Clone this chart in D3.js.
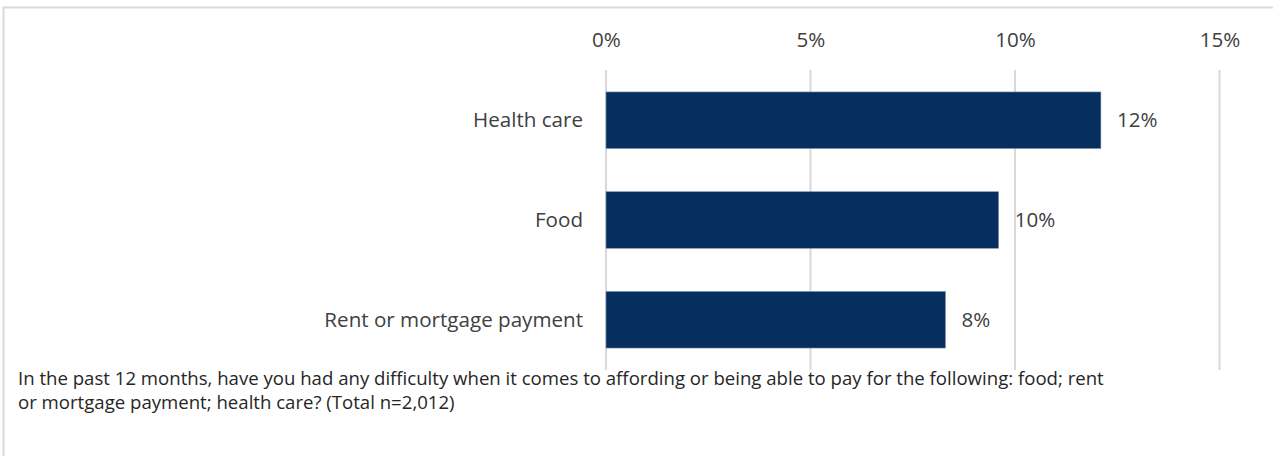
<!DOCTYPE html>
<html><head><meta charset="utf-8">
<script src="https://cdn.jsdelivr.net/npm/d3@7"></script>
<style>
html,body{margin:0;padding:0;background:#fff;}
svg{display:block;}
text{font-family:"Open Sans",Lato,sans-serif;}
</style></head>
<body>
<svg id="chart" width="1273" height="456"></svg>
<script>
const categories = ["Health care", "Food", "Rent or mortgage payment"];
const values = [12.1, 9.6, 8.3];
const valueLabels = ["12%", "10%", "8%"];
const tickValues = [0, 5, 10, 15];
const captionLines = [
  "In the past 12 months, have you had any difficulty when it comes to affording or being able to pay for the following: food; rent",
  "or mortgage payment; health care? (Total n=2,012)"
];

const FONT = "'Open Sans', Lato, sans-serif";
const svg = d3.select("#chart");
// outer border
svg.append("rect").attr("x", 3.5).attr("y", 7.5).attr("width", 1290).attr("height", 470)
  .attr("fill", "none").attr("stroke", "#d9d9d9").attr("stroke-width", 2);

const x = d3.scaleLinear().domain([0, 15]).range([606, 1219.5]);
const y = d3.scaleBand().domain(categories).range([70, 370]).paddingInner(0.433).paddingOuter(0.22);

// gridlines
svg.append("g").selectAll("line").data(tickValues).join("line")
  .attr("x1", d => x(d)).attr("x2", d => x(d))
  .attr("y1", 70).attr("y2", 370)
  .attr("stroke", "#d9d9d9").attr("stroke-width", 2);

// top axis labels
const axis = d3.axisTop(x).tickValues(tickValues).tickFormat(d => d + "%").tickSize(0).tickPadding(0);
const ag = svg.append("g").attr("transform", "translate(0,47)").call(axis);
ag.select(".domain").remove();
ag.selectAll("text").attr("font-family", FONT).attr("font-size", 20.6).attr("fill", "#404040");

// bars
svg.append("g").selectAll("rect").data(categories).join("rect")
  .attr("x", x(0)).attr("y", d => y(d))
  .attr("width", (d, i) => x(values[i]) - x(0))
  .attr("height", y.bandwidth())
  .attr("fill", "#062f5f").attr("stroke", "#7f93ab").attr("stroke-width", 0.6);

// category labels
svg.append("g").selectAll("text").data(categories).join("text")
  .attr("x", 583).attr("y", d => y(d) + y.bandwidth() / 2)
  .attr("dy", "0.35em").attr("text-anchor", "end")
  .attr("font-size", 20.6).attr("fill", "#404040").text(d => d);

// value labels
svg.append("g").selectAll("text").data(categories).join("text")
  .attr("x", (d, i) => x(values[i]) + 16).attr("y", d => y(d) + y.bandwidth() / 2)
  .attr("dy", "0.35em").attr("text-anchor", "start")
  .attr("font-size", 20.6).attr("fill", "#404040").text((d, i) => valueLabels[i]);

// caption
svg.append("g").selectAll("text").data(captionLines).join("text")
  .attr("x", 18).attr("y", (d, i) => 385 + i * 24)
  .attr("font-size", 18.6).attr("fill", "#262626").text(d => d);
</script>
</body></html>
